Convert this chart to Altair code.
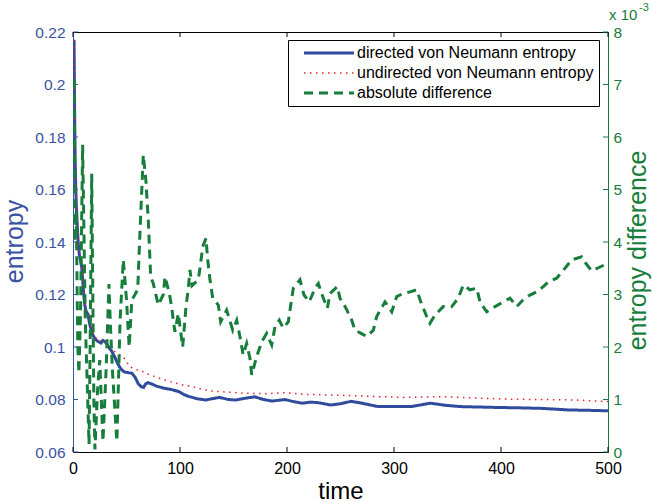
import altair as alt
import pandas as pd

# ---------------- data ----------------
series_names = ["directed von Neumann entropy",
                "undirected von Neumann entropy",
                "absolute difference"]

dir_t = [1, 1.5, 2, 2.5, 3, 4, 5, 6, 7, 8, 9, 10, 11, 12, 13, 14, 15, 16, 18, 20,
         22, 24, 26, 28, 30, 32, 34, 36, 39, 42, 45, 48, 52, 55, 58, 61, 64, 66, 68,
         70, 73, 78, 85, 92, 99, 104, 108, 116, 124, 130, 137, 145, 152, 161, 170,
         178, 186, 198, 206, 214, 222, 229, 241, 250, 260, 270, 285, 303, 316, 334,
         348, 362, 393, 420, 439, 464, 480, 500]
dir_e = [0.217, 0.190, 0.172, 0.162, 0.155, 0.146, 0.139, 0.135, 0.133, 0.131, 0.126,
         0.120, 0.116, 0.114, 0.113, 0.1125, 0.110, 0.108, 0.105, 0.1035, 0.1025,
         0.1020, 0.1015, 0.1025, 0.1020, 0.1010, 0.0995, 0.0985, 0.0962, 0.0935,
         0.0915, 0.0905, 0.0902, 0.0900, 0.0885, 0.0860, 0.0848, 0.0846, 0.0860,
         0.0864, 0.0860, 0.0851, 0.0843, 0.0838, 0.0830, 0.0818, 0.0812, 0.0803,
         0.0798, 0.0803, 0.0808, 0.0800, 0.0798, 0.0805, 0.0810, 0.0800, 0.0794,
         0.0800, 0.0792, 0.0786, 0.0790, 0.0788, 0.0779, 0.0784, 0.0793, 0.0786,
         0.0773, 0.0773, 0.0773, 0.0786, 0.0778, 0.0773, 0.0770, 0.0768, 0.0766,
         0.0760, 0.0759, 0.0757]

und_t = [1, 1.5, 2, 2.5, 3, 4, 5, 6, 7, 8, 9, 10, 11, 12, 13, 14, 15, 16, 18, 20,
         22, 25, 28, 31, 34, 38, 42, 47, 53, 58, 63, 72, 81, 91, 103, 112, 120, 130,
         145, 161, 180, 198, 215, 238, 260, 285, 310, 346, 375, 408, 440, 470, 500]
und_e = [0.217, 0.192, 0.174, 0.164, 0.157, 0.148, 0.141, 0.137, 0.134, 0.132, 0.127,
         0.122, 0.118, 0.115, 0.113, 0.1125, 0.111, 0.109, 0.106, 0.1045, 0.103,
         0.1025, 0.1025, 0.1015, 0.1003, 0.0985, 0.0975, 0.0963, 0.0925, 0.0915,
         0.0910, 0.0893, 0.0881, 0.0868, 0.0855, 0.0849, 0.0840, 0.0832, 0.0828,
         0.0824, 0.0822, 0.0826, 0.0820, 0.0817, 0.0815, 0.0811, 0.0808, 0.0811,
         0.0806, 0.0801, 0.0800, 0.0798, 0.0792]

# absolute difference, in units of 1e-3
diff_t = [1, 2, 3, 4.5, 5.5, 7, 9, 10, 11.5, 13, 15, 16, 17.5, 18.5, 19.5, 20.5, 23,
          25, 28, 31, 33.6, 35, 37, 41, 44, 47, 50, 52.5, 55, 58, 60.5, 62.6, 65.7,
          68.2, 70.4, 72.6, 75, 79.7, 84.4, 86, 90, 92.2, 93.7, 95.3, 98.4, 102.5,
          105.6, 107.8, 109.3, 111.2, 117, 118.7, 121.2, 124.3, 125.9, 128, 130.6,
          135.8, 138, 143.6, 149.3, 153, 156, 159, 162.3, 165.4, 167, 171.7, 176.4,
          181, 185.7, 188.8, 192.8, 196.5, 201.2, 203.5, 205.9, 212.1, 215.9, 220.8,
          226.2, 229.3, 233.4, 237.7, 240.2, 247, 249.5, 255.1, 260.5, 263.6, 269.2,
          274.5, 280.7, 283.8, 291.6, 297.9, 302.5, 308.7, 315, 321.2, 325, 330.6,
          333.6, 338.3, 346, 354, 360, 364.8, 371, 377.3, 380.4, 386.6, 394.4, 402.1,
          408.4, 414.7, 420.8, 427.1, 433.4, 439.5, 444.2, 452, 459.8, 466, 475.4,
          479.4, 484.8, 490, 496.3, 500]
diff_v = [7.1, 4.0, 4.6, 2.0, 1.5, 2.6, 5.85, 4.5, 2.5, 1.5, 0.15, 2.0, 5.3, 3.0, 1.0,
          0.05, 1.2, 1.75, 0.2, 1.6, 3.2, 2.4, 1.5, 0.2, 2.5, 3.66, 2.9, 2.0, 2.9, 3.0,
          3.1, 4.2, 5.66, 5.15, 4.4, 3.34, 3.21, 2.8, 3.0, 3.34, 3.02, 2.77, 2.51, 2.29,
          2.64, 2.0, 2.77, 3.12, 3.47, 3.17, 3.28, 3.5, 3.91, 4.07, 3.66, 3.28, 2.93,
          2.8, 2.48, 2.7, 2.32, 2.51, 2.2, 1.85, 2.07, 1.78, 1.47, 1.82, 2.1, 2.26,
          2.04, 2.39, 2.51, 2.36, 2.48, 2.8, 3.12, 3.28, 2.99, 2.86, 3.12, 3.21, 2.96,
          2.74, 3.02, 3.15, 2.93, 2.74, 2.51, 2.32, 2.26, 2.2, 2.32, 2.58, 2.86, 2.67,
          2.96, 3.02, 3.05, 3.09, 2.86, 2.58, 2.45, 2.61, 2.77, 2.77, 2.93, 3.18, 3.09,
          3.12, 2.86, 2.67, 2.77, 2.86, 2.93, 2.77, 2.9, 2.99, 3.05, 3.15, 3.24, 3.31,
          3.5, 3.66, 3.72, 3.59, 3.45, 3.5, 3.56, 3.5]

x_ticks = [0, 100, 200, 300, 400, 500]
left_ticks = [0.06, 0.08, 0.10, 0.12, 0.14, 0.16, 0.18, 0.20, 0.22]
right_ticks = [0, 1, 2, 3, 4, 5, 6, 7, 8]

# ---------------- styling ----------------
FONT = "Liberation Sans"
BLUE_TXT = "#3a52a3"
BLUE = "#2f4b9e"
RED = "#e8212b"
GREEN = "#177d3b"
W, H = 535, 420

dir_df = pd.DataFrame({"time": dir_t, "entropy": dir_e, "series": series_names[0]})
und_df = pd.DataFrame({"time": und_t, "entropy": und_e, "series": series_names[1]})
diff_df = pd.DataFrame({"time": diff_t, "diff": diff_v, "series": series_names[2]})

x_scale = alt.Scale(domain=[0, 500], nice=False, zero=False)
left_scale = alt.Scale(domain=[0.06, 0.22], nice=False, zero=False)
right_scale = alt.Scale(domain=[0, 8], nice=False, zero=False)
color_scale = alt.Scale(domain=series_names, range=[BLUE, RED, GREEN])
dash_scale = alt.Scale(domain=series_names, range=[[1, 0], [1.5, 4.5], [9, 6]])

x_axis = alt.Axis(values=x_ticks, format="d", title="time", grid=False, ticks=False,
                  domainColor="black", labelColor="black", labelFontSize=16,
                  labelPadding=8, labelFlush=False, labelOverlap=False,
                  titleFontSize=24, titleFontWeight="normal", titleColor="black",
                  titleX=W / 2, titleY=46, titleAlign="center",
                  titleBaseline="alphabetic")
left_axis = alt.Axis(values=left_ticks, format=".2~g", title="entropy", grid=False,
                     ticks=False, domainColor=BLUE_TXT, labelColor=BLUE_TXT,
                     labelFontSize=15.5, labelPadding=8, labelOverlap=False,
                     titleFontSize=25, titleFontWeight="normal", titleColor=BLUE_TXT,
                     titleAngle=270, titleX=-51, titleY=209, titleAlign="center",
                     titleBaseline="alphabetic")
right_axis = alt.Axis(orient="right", values=right_ticks, format="d",
                      title="entropy difference", grid=False, ticks=False,
                      domainColor=GREEN, labelColor=GREEN, labelFontSize=15.5,
                      labelPadding=5, labelOverlap=False,
                      titleFontSize=25, titleFontWeight="normal", titleColor=GREEN,
                      titleAngle=270, titleX=37, titleY=218, titleAlign="center",
                      titleBaseline="alphabetic")

legend = alt.Legend(title=None, orient="none", legendX=215, legendY=8,
                    direction="vertical", fillColor="white", strokeColor="black",
                    padding=5, symbolType="stroke", symbolSize=2500,
                    symbolStrokeWidth=alt.ExprRef(
                        expr="datum.value === 'undirected von Neumann entropy' ? 1.5 : 3"),
                    symbolOffset=28, labelOffset=20,
                    labelFontSize=16, labelFont=FONT, labelColor="black",
                    rowPadding=4, cornerRadius=0, labelLimit=400)

X = alt.X("time:Q", scale=x_scale, axis=x_axis)
col = alt.Color("series:N", scale=color_scale, legend=legend)
dash = alt.StrokeDash("series:N", scale=dash_scale, legend=legend)

dir_line = alt.Chart(dir_df).mark_line(strokeWidth=3, clip=True).encode(
    x=X, y=alt.Y("entropy:Q", scale=left_scale, axis=left_axis),
    color=col, strokeDash=dash)
und_line = alt.Chart(und_df).mark_line(strokeWidth=1.5, clip=True).encode(
    x=X, y=alt.Y("entropy:Q", scale=left_scale, axis=left_axis),
    color=col, strokeDash=dash)
left_tick_layer = alt.Chart(pd.DataFrame({"entropy": left_ticks})).mark_rule(
    color=BLUE_TXT, strokeWidth=1).encode(
    y=alt.Y("entropy:Q", scale=left_scale, axis=left_axis),
    x=alt.value(0), x2=alt.value(5))
xb_ticks = alt.Chart(pd.DataFrame({"time": x_ticks})).mark_rule(
    color="black", strokeWidth=1).encode(x=X, y=alt.value(H - 5), y2=alt.value(H))
xt_ticks = alt.Chart(pd.DataFrame({"time": x_ticks})).mark_rule(
    color="black", strokeWidth=1).encode(x=X, y=alt.value(0), y2=alt.value(5))

left_part = alt.layer(dir_line, und_line, left_tick_layer, xb_ticks, xt_ticks)

diff_line = alt.Chart(diff_df).mark_line(strokeWidth=3, clip=True).encode(
    x=X, y=alt.Y("diff:Q", scale=right_scale, axis=right_axis),
    color=col, strokeDash=dash)
right_tick_layer = alt.Chart(pd.DataFrame({"diff": right_ticks})).mark_rule(
    color=GREEN, strokeWidth=1).encode(
    y=alt.Y("diff:Q", scale=right_scale, axis=right_axis),
    x=alt.value(W - 5), x2=alt.value(W))

right_part = alt.layer(diff_line, right_tick_layer)

exp_base = alt.Chart(pd.DataFrame({"t": ["x 10"]})).mark_text(
    align="left", baseline="alphabetic", fontSize=15, font=FONT, color=GREEN).encode(
    text="t:N", x=alt.value(W + 1), y=alt.value(-12))
exp_sup = alt.Chart(pd.DataFrame({"t": ["-3"]})).mark_text(
    align="left", baseline="alphabetic", fontSize=11, font=FONT, color=GREEN).encode(
    text="t:N", x=alt.value(W + 31), y=alt.value(-21))

chart = alt.layer(left_part, right_part, exp_base, exp_sup).resolve_scale(
    y="independent"
).properties(
    width=W, height=H,
    autosize=alt.AutoSizeParams(type="none"),
    padding={"left": 73, "top": 32, "right": 44, "bottom": 50},
).configure(font=FONT).configure_view(stroke="black", strokeWidth=1)

chart.save("out.html", embed_options={"renderer": "svg", "actions": False})
